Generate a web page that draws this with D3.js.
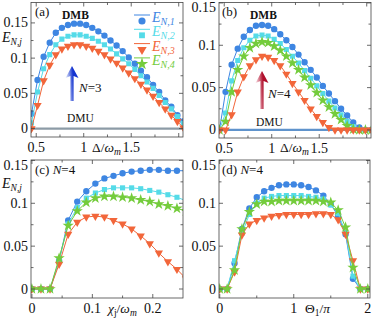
<!DOCTYPE html>
<html><head><meta charset="utf-8">
<script src="https://cdn.jsdelivr.net/npm/d3@7"></script>
<style>
body{margin:0;background:#fff;}
svg text{font-family:"Liberation Serif","Times New Roman",Times,serif;fill:#111;}
</style></head><body>
<script>
// ---- data ----
var deltaA = [0.450,0.514,0.578,0.642,0.706,0.770,0.834,0.898,0.962,1.026,1.090,1.154,1.218,1.282,1.346,1.410,1.474,1.538,1.602,1.666,1.730,1.794,1.858,1.922,1.986,2.050];
var a1 = [0.021,0.069,0.102,0.122,0.136,0.143,0.147,0.149,0.149,0.147,0.143,0.138,0.132,0.125,0.118,0.110,0.101,0.092,0.082,0.073,0.062,0.052,0.040,0.031,0.019,0.010];
var a2 = [0.008,0.052,0.085,0.105,0.119,0.127,0.131,0.133,0.133,0.131,0.128,0.124,0.119,0.113,0.106,0.099,0.092,0.084,0.075,0.066,0.057,0.047,0.037,0.028,0.017,0.007];
var a3 = [0.000,0.033,0.068,0.090,0.105,0.113,0.117,0.119,0.119,0.117,0.114,0.110,0.105,0.099,0.093,0.086,0.079,0.071,0.063,0.055,0.046,0.037,0.028,0.019,0.010,0.001];

var deltaB = [0.450,0.514,0.578,0.642,0.706,0.770,0.834,0.898,0.962,1.026,1.090,1.154,1.218,1.282,1.346,1.410,1.474,1.538,1.602,1.666,1.730,1.794,1.858,1.922,1.986,2.050];
var b1 = [0.000,0.045,0.077,0.096,0.110,0.118,0.123,0.124,0.123,0.119,0.113,0.106,0.098,0.089,0.080,0.071,0.062,0.052,0.043,0.034,0.025,0.017,0.009,0.003,0.000,0.000];
var b2 = [0.000,0.020,0.058,0.082,0.097,0.106,0.111,0.112,0.111,0.107,0.102,0.095,0.087,0.079,0.070,0.061,0.052,0.043,0.034,0.026,0.018,0.010,0.004,0.000,0.000,0.000];
var b3 = [0.000,0.000,0.018,0.045,0.063,0.076,0.083,0.087,0.086,0.082,0.076,0.066,0.055,0.045,0.035,0.025,0.016,0.009,0.003,0.000,0.000,0.000,0.000,0.000,0.000,0.000];
var b4 = [0.000,0.010,0.045,0.071,0.087,0.097,0.102,0.104,0.103,0.099,0.094,0.087,0.079,0.071,0.062,0.053,0.044,0.035,0.027,0.019,0.012,0.005,0.001,0.000,0.000,0.000];

// last point sits just past the frame, so only its line segment shows
var chi = [0,0.015,0.03,0.045,0.06,0.075,0.09,0.105,0.12,0.135,0.15,0.165,0.18,0.195,0.21,0.225,0.24,0.255];
var c1 = [0,0,0,0.033,0.080,0.102,0.114,0.123,0.129,0.132,0.135,0.137,0.138,0.139,0.139,0.138,0.138,0.138];
var c2 = [0,0,0,0.033,0.076,0.095,0.106,0.112,0.116,0.118,0.118,0.118,0.117,0.115,0.113,0.110,0.107,0.103];
var c3 = [0,0,0,0.029,0.064,0.078,0.084,0.085,0.084,0.080,0.076,0.070,0.062,0.053,0.042,0.032,0.023,0.012];
var c4 = [0,0,0,0.036,0.074,0.091,0.101,0.106,0.108,0.108,0.107,0.106,0.104,0.102,0.099,0.097,0.094,0.091];

var theta = [0,0.1,0.2,0.3,0.4,0.5,0.6,0.7,0.8,0.9,1.0,1.1,1.2,1.3,1.4,1.5,1.6,1.7,1.8,1.9,2.0];
var d1 = [0,0,0.030,0.070,0.094,0.107,0.114,0.118,0.121,0.122,0.122,0.121,0.119,0.115,0.109,0.099,0.085,0.064,0.012,0,0];
var d2 = [0,0,0.033,0.065,0.087,0.100,0.106,0.108,0.109,0.109,0.109,0.109,0.108,0.107,0.105,0.098,0.088,0.066,0.015,0,0];
var d3v = [0,0,0.020,0.063,0.076,0.080,0.083,0.085,0.086,0.087,0.087,0.087,0.087,0.088,0.088,0.087,0.081,0.064,0.033,0,0];
var d4 = [0,0,0.022,0.070,0.090,0.099,0.102,0.102,0.103,0.103,0.103,0.103,0.103,0.103,0.102,0.101,0.092,0.072,0.025,0,0];

var yTicks = [0, 0.05, 0.1, 0.15];
var yTickLabels = ["0", "0.05", "0.1", "0.15"];

var colors = ["#3e86e2", "#55dbe8", "#f2663a", "#74cc3c"];
var shapes = [d3.symbolCircle, d3.symbolSquare, d3.symbolTriangle, d3.symbolStar];
var sizes = [32, 26, 30, 40];

var svg = d3.select("body").append("svg").attr("width", 373).attr("height", 321)
  .attr("font-family", "'Liberation Serif', 'Times New Roman', serif");

var defs = svg.append("defs");
function grad(id, light, dark) {
  var gr = defs.append("linearGradient").attr("id", id)
    .attr("x1", "0").attr("y1", "0.2").attr("x2", "1").attr("y2", "0");
  gr.append("stop").attr("offset", "0").attr("stop-color", light);
  gr.append("stop").attr("offset", "0.55").attr("stop-color", dark);
  gr.append("stop").attr("offset", "1").attr("stop-color", dark);
}
grad("gBlue", "#e8eefc", "#1434d0");
grad("gRed", "#fbe4ea", "#b00f2c");

function panel(p) {
  var x = d3.scaleLinear().domain(p.xd).range([p.l, p.r]);
  var y = d3.scaleLinear().domain(p.yd).range([p.b, p.t]);
  var g = svg.append("g");
  var cid = "clip" + p.name;
  defs.append("clipPath").attr("id", cid).append("rect")
    .attr("x", p.l).attr("y", p.t).attr("width", p.r - p.l).attr("height", p.b - p.t);
  var inner = g.append("g").attr("clip-path", "url(#" + cid + ")");

  if (p.dmu) {
    inner.append("line").attr("x1", p.l).attr("x2", p.r)
      .attr("y1", y(0)).attr("y2", y(0))
      .attr("stroke", p.dmu).attr("stroke-width", 2.2);
  }

  p.series.forEach(function(s) {
    var pts = p.xs.map(function(v, i) { return [v, s.vals[i]]; });
    inner.append("path")
      .attr("d", d3.line().x(function(d) { return x(d[0]); }).y(function(d) { return y(d[1]); })(pts))
      .attr("fill", "none").attr("stroke", colors[s.k]).attr("stroke-width", 1);
    inner.selectAll(null).data(pts).enter().append("path")
      .attr("d", d3.symbol().type(shapes[s.k]).size(sizes[s.k]))
      .attr("transform", function(d) {
        return "translate(" + x(d[0]) + "," + y(d[1]) + ")" + (s.k == 2 ? " rotate(180)" : "");
      })
      .attr("fill", colors[s.k]);
  });

  // frame
  g.append("rect").attr("x", p.l).attr("y", p.t).attr("width", p.r - p.l).attr("height", p.b - p.t)
    .attr("fill", "none").attr("stroke", "#444").attr("stroke-width", 0.8);

  // ticks, inward on all four sides
  function tick(x1, y1, x2, y2) {
    g.append("line").attr("x1", x1).attr("y1", y1).attr("x2", x2).attr("y2", y2)
      .attr("stroke", "#444").attr("stroke-width", 0.8);
  }
  p.xMajor.forEach(function(v) { var px = x(v); tick(px, p.b, px, p.b - 4); tick(px, p.t, px, p.t + 4); });
  p.xMinor.forEach(function(v) { var px = x(v); tick(px, p.b, px, p.b - 2.5); tick(px, p.t, px, p.t + 2.5); });
  yTicks.forEach(function(v) { var py = y(v); tick(p.l, py, p.l + 4, py); tick(p.r, py, p.r - 4, py); });
  [0.025, 0.075, 0.125].forEach(function(v) { var py = y(v); tick(p.l, py, p.l + 2.5, py); tick(p.r, py, p.r - 2.5, py); });

  // tick labels
  p.xLabels.forEach(function(t) {
    g.append("text").attr("x", x(t[0])).attr("y", p.b + 15).attr("text-anchor", "middle")
      .attr("font-size", 14).text(t[1]);
  });
  yTicks.forEach(function(v, i) {
    var py = Math.max(y(v), p.t + 5);
    g.append("text").attr("x", p.l - 3).attr("y", py + 4.5).attr("text-anchor", "end")
      .attr("font-size", 14).text(yTickLabels[i]);
  });
  return {x: x, y: y, g: g};
}

panel({name: "a", l: 31, r: 183, t: 2.5, b: 137, xd: [0.445, 2.045], yd: [-0.012, 0.179],
  xs: deltaA, dmu: "#8c9ba6",
  series: [{k: 0, vals: a1}, {k: 1, vals: a2}, {k: 2, vals: a3}],
  xMajor: [0.5, 1, 1.5, 2], xMinor: [0.75, 1.25, 1.75],
  xLabels: [[0.5, "0.5"], [1, "1"], [1.5, "1.5"]]});

panel({name: "b", l: 219, r: 371, t: 2.5, b: 138, xd: [0.445, 2.045], yd: [-0.0095, 0.1505],
  xs: deltaB, dmu: "#5f93cc",
  series: [{k: 0, vals: b1}, {k: 1, vals: b2}, {k: 3, vals: b4}, {k: 2, vals: b3}],
  xMajor: [0.5, 1, 1.5, 2], xMinor: [0.75, 1.25, 1.75],
  xLabels: [[0.5, "0.5"], [1, "1"], [1.5, "1.5"]]});

panel({name: "c", l: 31, r: 183, t: 160, b: 298, xd: [-0.0015, 0.25], yd: [-0.0105, 0.1505],
  xs: chi, dmu: null,
  series: [{k: 0, vals: c1}, {k: 1, vals: c2}, {k: 2, vals: c3}, {k: 3, vals: c4}],
  xMajor: [0, 0.1, 0.2], xMinor: [0.05, 0.15],
  xLabels: [[0, "0"], [0.1, "0.1"], [0.2, "0.2"]]});

panel({name: "d", l: 219, r: 370, t: 160, b: 298, xd: [-0.01, 2.03], yd: [-0.0105, 0.1505],
  xs: theta, dmu: null,
  series: [{k: 0, vals: d1}, {k: 1, vals: d2}, {k: 2, vals: d3v}, {k: 3, vals: d4}],
  xMajor: [0, 1, 2], xMinor: [0.5, 1.5],
  xLabels: [[0, "0"], [1, "1"], [2, "2"]]});

// ---- annotations ----
function txt(x, y, s, size, opts) {
  var t = svg.append("text").attr("x", x).attr("y", y).attr("font-size", size);
  if (opts && opts.bold) t.attr("font-weight", "bold");
  if (opts && opts.italic) t.attr("font-style", "italic");
  if (opts && opts.fill) t.style("fill", opts.fill);
  if (s != null) t.text(s);
  return t;
}

txt(35, 16, "(a)", 13);
txt(222, 16, "(b)", 13);
txt(62, 19, "DMB", 11.5, {bold: true});
txt(250, 19, "DMB", 11.5, {bold: true});
txt(67, 122, "DMU", 11.5);
txt(256, 126, "DMU", 11.5);

// y label E_{N,j}
[42, 188].forEach(function(yy) {
  var t = txt(2, yy, "E", 14, {italic: true});
  var s = t.append("tspan").attr("dy", 3).attr("font-size", 9.5);
  s.append("tspan").attr("font-style", "italic").text("N");
  s.append("tspan").text(",");
  s.append("tspan").attr("font-style", "italic").text("j");
});

// (c) N=4, (d) N=4
[[35, "(c) "], [222, "(d) "]].forEach(function(c) {
  var t = txt(c[0], 174, c[1], 13);
  t.append("tspan").attr("font-style", "italic").text("N");
  t.append("tspan").text("=4");
});

// arrows
function arrow(cx, top, bottom, fill) {
  var hw = 6.5, hh = 12, sw = 1.6;
  var pts = [[cx, top], [cx + hw, top + hh], [cx + sw, top + hh - 2], [cx + sw, bottom],
             [cx - sw, bottom], [cx - sw, top + hh - 2], [cx - hw, top + hh]];
  svg.append("path").attr("d", d3.line()(pts) + "Z").attr("fill", fill);
}
arrow(72, 66, 101, "url(#gBlue)");
arrow(262, 71, 109, "url(#gRed)");
var n3 = txt(79, 92, null, 13);
n3.append("tspan").attr("font-style", "italic").text("N");
n3.append("tspan").text("=3");
var n4 = txt(268, 98, null, 13);
n4.append("tspan").attr("font-style", "italic").text("N");
n4.append("tspan").text("=4");

// x axis labels
function xlab(x, y, main, subs, rest, restSub) {
  var t = txt(x, y, null, 13.5);
  t.append("tspan").attr("font-style", main.it ? "italic" : null).text(main.s);
  if (subs) t.append("tspan").attr("dy", 3).attr("font-size", 9.5).text(subs);
  t.append("tspan").attr("dy", subs ? -3 : 0).text("/");
  t.append("tspan").attr("font-style", "italic").text(rest);
  if (restSub) t.append("tspan").attr("dy", 3).attr("font-size", 9.5).attr("font-style", "italic").text(restSub);
}
xlab(92, 152, {s: "\u0394"}, null, "\u03c9", "m");
xlab(280, 152, {s: "\u0394"}, null, "\u03c9", "m");
xlab(108, 313, {s: "\u03c7", it: true}, "j", "\u03c9", "m");
xlab(305, 313, {s: "\u0398"}, "1", "\u03c0", null);

// legend in (a)
var legendNames = ["1", "2", "3", "4"];
legendNames.forEach(function(n, i) {
  var yy = 19 + i * 14.3;
  svg.append("line").attr("x1", 134).attr("x2", 150).attr("y1", yy - 4).attr("y2", yy - 4)
    .attr("stroke", colors[i]).attr("stroke-width", 1);
  svg.append("path").attr("d", d3.symbol().type(shapes[i]).size(sizes[i] + 8))
    .attr("transform", "translate(142," + (yy + 2) + ")" + (i == 2 ? " rotate(180)" : ""))
    .attr("fill", colors[i]);
  var t = txt(152, yy + 3, "E", 14, {italic: true, fill: colors[i]});
  var s = t.append("tspan").attr("dy", 3).attr("font-size", 10);
  s.append("tspan").attr("font-style", "italic").text("N");
  s.append("tspan").text("," + n);
});
</script>
</body></html>
